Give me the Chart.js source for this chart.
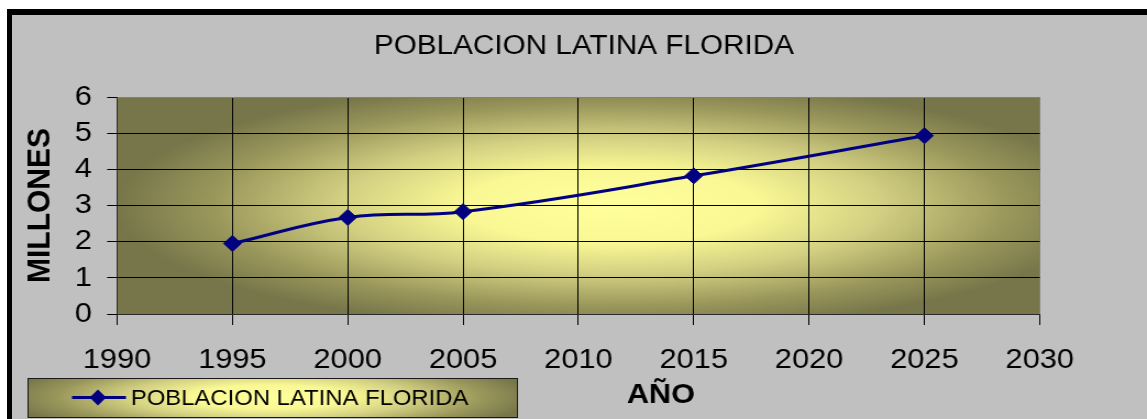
<!DOCTYPE html>
<html>
<head>
<meta charset="utf-8">
<script src="https://cdn.jsdelivr.net/npm/chart.js@4.4.0/dist/chart.umd.min.js"></script>
<style>
  html, body { margin: 0; padding: 0; background: #fff; overflow: hidden; }
  #marco { position: absolute; left: 7px; top: 9px; width: 1200px; height: 460px;
           background: #c0c0c0; border-left: 5px solid #000; border-top: 6px solid #000; }
  #grafico { position: absolute; left: 0; top: 0; }
</style>
</head>
<body>
<div id="marco"></div>
<canvas id="grafico" width="1043" height="419" style="width:1147px;height:419px"></canvas>
<script>
const anios = [1995, 2000, 2005, 2015, 2025];
const poblacion = [1.95, 2.67, 2.83, 3.82, 4.93];
const ticksX = [1990, 1995, 2000, 2005, 2010, 2015, 2020, 2025, 2030];
const ticksY = [0, 1, 2, 3, 4, 5, 6];
const titulo = "POBLACION LATINA FLORIDA";
const serie = "POBLACION LATINA FLORIDA";
const tituloX = "AÑO";
const tituloY = "MILLONES";

const fuente = '"Liberation Sans", Arial, sans-serif';
const azul = '#000080';

// degradado desde el centro (fondo del area de trazado y de la leyenda)
function degradado(ctx, x, y, rx, ry, caja) {
  ctx.save();
  ctx.beginPath();
  ctx.rect(caja[0], caja[1], caja[2], caja[3]);
  ctx.clip();
  ctx.translate(x, y);
  ctx.scale(1, ry / rx);
  const g = ctx.createRadialGradient(0, 0, 0, 0, 0, rx);
  g.addColorStop(0, '#ffff9c');
  g.addColorStop(0.3, '#f9f894');
  g.addColorStop(0.55, '#d2cf82');
  g.addColorStop(0.8, '#9b985c');
  g.addColorStop(1, '#77764a');
  ctx.fillStyle = g;
  ctx.fillRect(-rx * 3, -rx * 3, rx * 6, rx * 6);
  ctx.restore();
}

const extras = {
  id: 'extras',
  beforeDraw(chart) {
    const { ctx, chartArea: a } = chart;
    degradado(ctx, a.left + a.width * 0.535, a.top + a.height / 2, 450, 125,
      [a.left, a.top, a.width, a.height]);
  },
  afterDraw(chart) {
    const ctx = chart.ctx;
    ctx.save();
    ctx.fillStyle = '#000';
    ctx.textBaseline = 'alphabetic';

    ctx.font = '27px ' + fuente;
    ctx.textAlign = 'center';
    ctx.fillText(titulo, 531, 54);

    ctx.font = 'bold 28px ' + fuente;
    ctx.fillText(tituloX, 601, 403);

    // leyenda
    degradado(ctx, 245, 397, 240, 40, [25, 378, 445, 39]);
    ctx.strokeStyle = '#1a1a1a';
    ctx.lineWidth = 1;
    ctx.strokeRect(25.5, 378.5, 445, 39);
    ctx.strokeStyle = azul;
    ctx.lineWidth = 3;
    ctx.beginPath();
    ctx.moveTo(65.5, 397.5);
    ctx.lineTo(114.5, 397.5);
    ctx.stroke();
    ctx.fillStyle = azul;
    ctx.beginPath();
    ctx.moveTo(89, 389.5);
    ctx.lineTo(96.5, 397.5);
    ctx.lineTo(89, 405.5);
    ctx.lineTo(81.5, 397.5);
    ctx.closePath();
    ctx.fill();
    ctx.fillStyle = '#000';
    ctx.font = '21.7px ' + fuente;
    ctx.textAlign = 'left';
    ctx.fillText(serie, 119, 405);
    ctx.restore();
  }
};

const ctx = document.getElementById('grafico').getContext('2d');

new Chart(ctx, {
  type: 'line',
  data: {
    datasets: [{
      label: serie,
      data: anios.map((a, i) => ({ x: a, y: poblacion[i] })),
      borderColor: azul,
      backgroundColor: azul,
      borderWidth: 3,
      tension: 0.4,
      pointStyle: 'rectRot',
      pointRadius: 8,
      pointBackgroundColor: azul,
      pointBorderColor: azul,
      pointBorderWidth: 1,
      clip: false
    }]
  },
  options: {
    responsive: false,
    animation: false,
    events: [],
    layout: { padding: { left: 8, top: 97, right: 97.5, bottom: 0 } },
    plugins: { legend: { display: false }, tooltip: { enabled: false } },
    scales: {
      x: {
        type: 'linear',
        min: 1990,
        max: 2030,
        afterBuildTicks: s => { s.ticks = ticksX.map(v => ({ value: v })); },
        afterFit: s => { s.height = 105; s.paddingLeft = 0; s.paddingRight = 0; },
        ticks: {
          color: '#000', padding: 18, maxRotation: 0, autoSkip: false,
          font: { family: fuente, size: 28 },
          callback: v => String(v)
        },
        grid: {
          color: c => (c.tick && c.tick.value === 2030 ? '#808080' : '#000'),
          tickColor: '#000', tickLength: 11, lineWidth: 1
        },
        border: { color: '#2a2a2a', width: 1 }
      },
      y: {
        min: 0,
        max: 6,
        afterBuildTicks: s => { s.ticks = ticksY.map(v => ({ value: v })); },
        afterFit: s => { s.width = 98.4; s.paddingTop = 0; s.paddingBottom = 0; },
        ticks: {
          color: '#000', padding: 13.8, autoSkip: false,
          font: { family: fuente, size: 28 },
          callback: v => String(v)
        },
        grid: {
          color: c => (c.tick && c.tick.value === 6 ? '#808080' : '#000'),
          tickColor: '#000', tickLength: 9, lineWidth: 1
        },
        border: { color: '#2a2a2a', width: 1 },
        title: {
          display: true, text: tituloY, color: '#000',
          font: { family: fuente, size: 30, weight: 'bold' },
          padding: { top: 11, bottom: 0 }
        }
      }
    }
  },
  plugins: [extras]
});
</script>
</body>
</html>
